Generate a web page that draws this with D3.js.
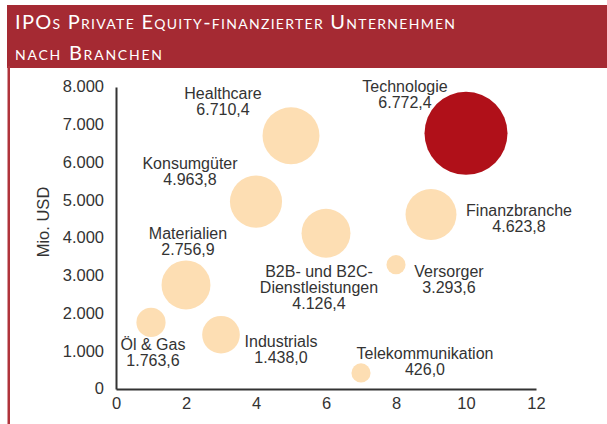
<!DOCTYPE html>
<html>
<head>
<meta charset="utf-8">
<script src="https://cdn.jsdelivr.net/npm/d3@7"></script>
<style>
  html, body { margin: 0; padding: 0; background: #fff; }
  svg { display: block; }
</style>
</head>
<body>
<svg id="chart" width="607" height="424"></svg>
<script>
// Sectors, their position on the x axis, IPO volume (Mio. USD) and bubble size
const sectors = ["Öl & Gas", "Materialien", "Industrials", "Konsumgüter", "Healthcare",
                 "B2B- und B2C-\nDienstleistungen", "Telekommunikation", "Versorger",
                 "Finanzbranche", "Technologie"];
const xValues = [1, 2, 3, 4, 5, 6, 7, 8, 9, 10];
const volumes = [1763.6, 2756.9, 1438.0, 4963.8, 6710.4, 4126.4, 426.0, 3293.6, 4623.8, 6772.4];
const bubbleSize = [2.1, 5.9, 3.5, 6.7, 8.0, 5.9, 0.9, 0.9, 6.4, 17];
const highlight = "Technologie";

const xTicks = [0, 2, 4, 6, 8, 10, 12];
const yTicks = [0, 1000, 2000, 3000, 4000, 5000, 6000, 7000, 8000];

// Label placement relative to each bubble centre (dx, dy of first baseline)
const labelOffsets = [[2, 27.6], [2, -46], [60, 12.3], [-66, -32.6], [-68, -36.7],
                      [-7, 43.8], [64, -13.9], [53, 12.3], [88, 1.5], [-61, -41.3]];

const de = d3.formatLocale({ decimal: ",", thousands: ".", grouping: [3], currency: ["", " €"] });
const fmtValue = de.format(",.1f");
const fmtTick = de.format(",.0f");

const svg = d3.select("#chart");
const font = "'Liberation Sans', Arial, sans-serif";
const ink = "#333";
const fontSize = 16;
const lineHeight = 16;

// Header band and left rule
svg.append("rect").attr("x", 7).attr("y", 5).attr("width", 600).attr("height", 63).attr("fill", "#a52a33");
svg.append("rect").attr("x", 7.5).attr("y", 66).attr("width", 2.5).attr("height", 358).attr("fill", "#b0333b");

const title = svg.append("g")
  .attr("fill", "#fff")
  .style("font-family", "Lato, 'Open Sans', sans-serif")
  .style("font-variant", "small-caps")
  .style("font-size", "20px");
title.append("text").attr("x", 15).attr("y", 29)
  .attr("textLength", 440).attr("lengthAdjust", "spacing")
  .text("IPOs Private Equity-finanzierter Unternehmen");
title.append("text").attr("x", 15).attr("y", 60)
  .attr("textLength", 147).attr("lengthAdjust", "spacing")
  .text("nach Branchen");

// Scales
const x = d3.scaleLinear().domain([0, 12]).range([116, 536]);
const y = d3.scaleLinear().domain([0, 8000]).range([389, 87]);
const r = d3.scaleSqrt().domain([0, 17]).range([0, 41.5]);

// Bubbles
const data = sectors.map((s, i) => ({
  name: s, x: xValues[i], v: volumes[i], size: bubbleSize[i], off: labelOffsets[i]
}));

svg.append("g").selectAll("circle")
  .data(data)
  .join("circle")
  .attr("cx", d => x(d.x))
  .attr("cy", d => y(d.v))
  .attr("r", d => r(d.size))
  .attr("fill", d => d.name === highlight ? "#b01019" : "#fddeb3");

// Axes
const yAxis = d3.axisLeft(y).tickValues(yTicks).tickFormat(fmtTick).tickSize(0).tickPadding(12);
const xAxis = d3.axisBottom(x).tickValues(xTicks).tickFormat(d3.format("d")).tickSize(0).tickPadding(8);

const gy = svg.append("g").attr("transform", `translate(${x(0)},0)`).call(yAxis);
const gx = svg.append("g").attr("transform", `translate(0,${y(0)})`).call(xAxis);
[gx, gy].forEach(g => {
  g.select(".domain").attr("stroke", ink).attr("stroke-width", 2);
  g.selectAll("text").attr("fill", ink).style("font-family", font).style("font-size", "16.5px");
});
gy.selectAll("text").attr("dy", "0.3em");

svg.append("text")
  .attr("transform", "translate(49,222) rotate(-90)")
  .attr("text-anchor", "middle")
  .attr("fill", ink)
  .style("font-family", font)
  .style("font-size", "16.5px")
  .text("Mio. USD");

// Bubble labels: sector name and volume
const labels = svg.append("g")
  .attr("fill", ink)
  .attr("text-anchor", "middle")
  .style("font-family", font)
  .style("font-size", fontSize + "px");

data.forEach(d => {
  const lines = d.name.split("\n").concat([fmtValue(d.v)]);
  const t = labels.append("text")
    .attr("x", x(d.x) + d.off[0])
    .attr("y", y(d.v) + d.off[1]);
  lines.forEach((line, i) => {
    t.append("tspan")
      .attr("x", x(d.x) + d.off[0])
      .attr("dy", i === 0 ? 0 : lineHeight)
      .text(line);
  });
});
</script>
</body>
</html>
